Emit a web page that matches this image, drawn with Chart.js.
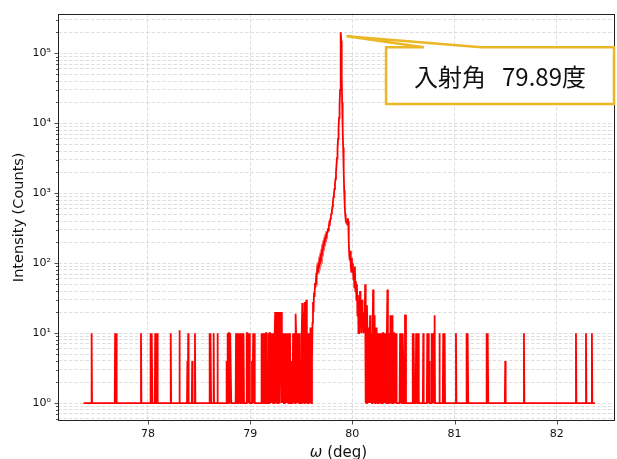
<!DOCTYPE html>
<html>
<head>
<meta charset="utf-8">
<script src="https://cdn.jsdelivr.net/npm/chart.js@4.4.1/dist/chart.umd.min.js"></script>
<style>
  html, body { margin: 0; padding: 0; background: #fff; }
</style>
</head>
<body>
<canvas id="rockingCurve" width="617" height="459"></canvas>
<script>
// Scan data: [omega (deg), counts]
const leftWing = [
  [77.370, 1],
  [77.445, 1], [77.449, 10], [77.453, 1],
  [77.675, 1], [77.679, 10], [77.683, 1], [77.686, 1], [77.690, 10], [77.694, 1],
  [77.928, 1], [77.932, 10], [77.936, 1],
  [78.022, 1], [78.026, 10], [78.030, 1], [78.035, 1], [78.039, 10], [78.043, 1],
  [78.067, 1], [78.071, 10], [78.075, 1], [78.087, 1], [78.091, 10], [78.095, 1],
  [78.219, 1], [78.223, 10], [78.227, 1],
  [78.304, 1], [78.308, 11], [78.312, 1],
  [78.382, 1], [78.386, 4], [78.390, 1], [78.394, 10], [78.398, 1],
  [78.429, 1], [78.433, 4], [78.437, 1],
  [78.456, 1], [78.460, 10], [78.464, 1],
  [78.600, 1], [78.604, 10], [78.608, 1], [78.610, 1], [78.614, 10], [78.618, 1],
  [78.639, 1], [78.643, 10], [78.647, 1],
  [78.676, 1], [78.680, 10], [78.684, 1],
  [78.765, 1], [78.770, 4], [78.775, 1], [78.780, 10], [78.785, 1], [78.790, 10], [78.795, 10], [78.800, 1], [78.805, 10], [78.810, 10], [78.815, 1],
  [78.858, 1], [78.862, 10], [78.867, 1], [78.872, 10], [78.877, 1],
  [78.887, 1], [78.892, 10], [78.897, 1], [78.902, 10], [78.907, 1],
  [78.920, 1], [78.925, 10], [78.930, 1], [78.935, 10], [78.940, 1],
  [78.962, 1], [78.967, 10], [78.972, 10], [78.977, 1], [78.982, 10], [78.987, 1], [78.992, 10], [78.997, 1],
  [79.013, 1], [79.018, 4], [79.023, 1], [79.030, 10], [79.035, 1], [79.040, 10], [79.045, 1]
];

const lowShoulder = [
  [79.108, 1], [79.112, 10], [79.117, 1], [79.122, 1], [79.127, 10], [79.132, 1],
  [79.140, 1], [79.145, 10], [79.150, 1], [79.155, 10], [79.160, 10], [79.165, 1],
  [79.175, 1], [79.180, 10], [79.185, 1], [79.190, 10], [79.195, 10], [79.200, 1],
  [79.205, 10], [79.210, 1], [79.215, 10], [79.220, 10], [79.225, 1], [79.230, 10],
  [79.235, 1], [79.240, 10], [79.245, 20], [79.250, 1], [79.255, 20], [79.260, 10],
  [79.265, 1], [79.270, 20], [79.275, 1], [79.280, 10], [79.285, 20], [79.290, 1],
  [79.295, 20], [79.300, 10], [79.305, 20], [79.310, 1], [79.315, 10], [79.320, 1],
  [79.325, 10], [79.330, 1], [79.335, 1], [79.340, 10], [79.345, 1], [79.350, 1],
  [79.355, 10], [79.360, 1], [79.365, 10], [79.370, 10], [79.375, 1], [79.380, 10],
  [79.385, 1], [79.390, 10], [79.395, 1], [79.400, 4], [79.405, 1], [79.415, 1],
  [79.420, 10], [79.425, 1], [79.430, 10], [79.435, 10], [79.440, 1], [79.445, 19],
  [79.450, 10], [79.455, 1], [79.460, 10], [79.465, 1], [79.470, 10], [79.475, 10],
  [79.480, 1], [79.485, 10], [79.490, 1], [79.495, 4], [79.500, 1], [79.505, 10],
  [79.510, 27], [79.515, 1], [79.520, 10], [79.525, 20], [79.530, 1], [79.535, 28],
  [79.540, 10], [79.545, 1], [79.550, 30], [79.555, 10], [79.560, 1], [79.565, 10],
  [79.570, 1], [79.575, 4], [79.580, 10], [79.585, 1], [79.590, 12], [79.595, 4]
];

const peakProfile = [
  [79.600, 1], [79.605, 4], [79.610, 14], [79.615, 28], [79.620, 20], [79.625, 38],
  [79.630, 33], [79.635, 52], [79.640, 45], [79.645, 62], [79.650, 58], [79.655, 78],
  [79.660, 70], [79.665, 90], [79.670, 85], [79.675, 105], [79.680, 98], [79.685, 120],
  [79.690, 112], [79.695, 135], [79.700, 125], [79.705, 160], [79.710, 150], [79.715, 185],
  [79.720, 175], [79.725, 210], [79.730, 200], [79.735, 235], [79.740, 225], [79.745, 260],
  [79.750, 250], [79.755, 280], [79.760, 300], [79.765, 295], [79.770, 340], [79.775, 380],
  [79.780, 370], [79.785, 430], [79.790, 470], [79.795, 510], [79.800, 560], [79.805, 650],
  [79.810, 760], [79.815, 880], [79.820, 1000], [79.825, 1150], [79.830, 1350], [79.835, 1600],
  [79.840, 2000], [79.845, 2500], [79.850, 3200], [79.855, 4300], [79.860, 6000], [79.865, 8500],
  [79.870, 12000], [79.875, 18000], [79.880, 30000], [79.884, 70000], [79.888, 200000], [79.892, 150000],
  [79.896, 50000], [79.900, 20000], [79.905, 9000], [79.910, 4500], [79.915, 2200], [79.920, 1100],
  [79.925, 700], [79.930, 500], [79.935, 420], [79.940, 380], [79.945, 420], [79.950, 360],
  [79.955, 440], [79.960, 400], [79.965, 200], [79.970, 130], [79.975, 110], [79.980, 150],
  [79.985, 90], [79.990, 75], [79.995, 120], [80.000, 80], [80.005, 100], [80.010, 60],
  [80.015, 70], [80.020, 45], [80.025, 90], [80.030, 40], [80.035, 55], [80.040, 30],
  [80.045, 50], [80.050, 18], [80.055, 35], [80.060, 10], [80.065, 25], [80.070, 10],
  [80.075, 40], [80.080, 15], [80.085, 20], [80.090, 10], [80.095, 30], [80.100, 12],
  [80.105, 20], [80.110, 10], [80.115, 15], [80.120, 10], [80.125, 50], [80.128, 1]
];

const rightWing = [
  [80.133, 10], [80.138, 1], [80.143, 25], [80.148, 10], [80.153, 1], [80.158, 12],
  [80.163, 10], [80.168, 1], [80.173, 18], [80.178, 1], [80.183, 10], [80.188, 10],
  [80.193, 1], [80.198, 10], [80.203, 42], [80.208, 1], [80.213, 10], [80.218, 18],
  [80.223, 1], [80.228, 10], [80.233, 12], [80.238, 1], [80.243, 10], [80.248, 1],
  [80.258, 1], [80.263, 10], [80.268, 1], [80.273, 10], [80.278, 10], [80.283, 1],
  [80.288, 10], [80.293, 1], [80.298, 10], [80.303, 10], [80.308, 1], [80.313, 10],
  [80.318, 1], [80.323, 10], [80.328, 10], [80.333, 1], [80.338, 10], [80.343, 42],
  [80.348, 1], [80.358, 1], [80.363, 10], [80.368, 1], [80.373, 18], [80.378, 10],
  [80.383, 1], [80.388, 10], [80.393, 18], [80.398, 1], [80.403, 10], [80.408, 10],
  [80.413, 1], [80.418, 10], [80.423, 1], [80.428, 10], [80.433, 1],
  [80.462, 1], [80.467, 10], [80.472, 1], [80.477, 10], [80.482, 10], [80.487, 1],
  [80.493, 10], [80.498, 4], [80.503, 1], [80.511, 1], [80.515, 18], [80.520, 18], [80.525, 1],
  [80.587, 1], [80.591, 10], [80.595, 1], [80.598, 1], [80.602, 10], [80.606, 1],
  [80.620, 1], [80.624, 10], [80.628, 1], [80.632, 1], [80.636, 10], [80.640, 1],
  [80.644, 1], [80.648, 10], [80.652, 1],
  [80.690, 1], [80.694, 10], [80.698, 1],
  [80.729, 1], [80.733, 10], [80.737, 1], [80.739, 1], [80.743, 10], [80.747, 1],
  [80.748, 1], [80.752, 4], [80.756, 1],
  [80.772, 1], [80.776, 10], [80.780, 1], [80.786, 1], [80.790, 10], [80.794, 1],
  [80.797, 1], [80.801, 10], [80.805, 18], [80.809, 1],
  [80.848, 1], [80.852, 10], [80.856, 1],
  [80.885, 1], [80.889, 10], [80.893, 1], [80.899, 1], [80.903, 10], [80.907, 1],
  [81.010, 1], [81.014, 10], [81.018, 1],
  [81.114, 1], [81.118, 10], [81.122, 1], [81.126, 1], [81.130, 10], [81.134, 1],
  [81.310, 1], [81.314, 10], [81.318, 1], [81.322, 1], [81.326, 10], [81.330, 1],
  [81.492, 1], [81.496, 4], [81.500, 1],
  [81.675, 1], [81.679, 10], [81.683, 1],
  [82.184, 1], [82.188, 10], [82.192, 1],
  [82.282, 1], [82.286, 10], [82.290, 1],
  [82.340, 1], [82.344, 10], [82.348, 1],
  [82.374, 1]
];

// Axes
const xTicks = [78, 79, 80, 81, 82];
const yMajorTicks = [1, 10, 100, 1000, 10000, 100000];
const yMajorLabels = ['10\u2070', '10\u00b9', '10\u00b2', '10\u00b3', '10\u2074', '10\u2075'];
const yMinorSteps = [2, 3, 4, 5, 6, 7, 8, 9];
const xRange = [77.12, 82.57];
const yRange = [0.555, 370000];

// Callout: tip, box corners, opening on the top edge (data coords)
const calloutTip = [79.944, 175000];
const calloutBox = [80.33, 122000, 82.56, 18800];
const calloutOpening = [80.70, 81.26];
const calloutParts = ['入射角', '79.89度'];

const yTicks = [];
[0.1, ...yMajorTicks].forEach(d => {
  [1, ...yMinorSteps].forEach(m => {
    const v = m * d;
    if (v >= yRange[0] && v <= yRange[1]) yTicks.push(v);
  });
});

const scan = [...leftWing, ...lowShoulder, ...peakProfile, ...rightWing].map(([x, y]) => ({x, y}));

const gridColor = '#d6d6d6';
const tickFont = {family: 'DejaVu Sans', size: 11};

const extras = {
  id: 'extras',
  afterDraw(chart) {
    const {ctx, chartArea: a, scales: {x, y}} = chart;
    ctx.save();

    // tick marks
    ctx.strokeStyle = '#222';
    ctx.lineWidth = 0.8;
    ctx.beginPath();
    y.ticks.forEach(t => {
      const py = Math.round(y.getPixelForValue(t.value)) + 0.5;
      const len = yMajorTicks.includes(t.value) ? 3.5 : 2;
      ctx.moveTo(a.left, py);
      ctx.lineTo(a.left - len, py);
    });
    x.ticks.forEach(t => {
      const px = Math.round(x.getPixelForValue(t.value)) + 0.5;
      ctx.moveTo(px, a.bottom);
      ctx.lineTo(px, a.bottom + 3.5);
    });
    ctx.stroke();

    // frame
    ctx.lineWidth = 1;
    ctx.strokeRect(Math.round(a.left) + 0.5, Math.round(a.top) + 0.5,
      Math.round(a.right - a.left) - 1, Math.round(a.bottom - a.top) - 1);

    // x title
    const cx = (a.left + a.right) / 2 + 2;
    ctx.fillStyle = '#111';
    ctx.textBaseline = 'alphabetic';
    ctx.font = 'italic 15px "DejaVu Sans"';
    const wOmega = ctx.measureText('ω').width;
    ctx.font = '15px "DejaVu Sans"';
    const wRest = ctx.measureText(' (deg)').width;
    const sx = cx - (wOmega + wRest) / 2;
    ctx.textAlign = 'left';
    ctx.font = 'italic 15px "DejaVu Sans"';
    ctx.fillText('ω', sx, 457);
    ctx.font = '15px "DejaVu Sans"';
    ctx.fillText(' (deg)', sx + wOmega, 457);

    // callout
    const tx = x.getPixelForValue(calloutTip[0]);
    const ty = y.getPixelForValue(calloutTip[1]);
    const bx0 = x.getPixelForValue(calloutBox[0]);
    const by0 = y.getPixelForValue(calloutBox[1]);
    const bx1 = x.getPixelForValue(calloutBox[2]);
    const by1 = y.getPixelForValue(calloutBox[3]);
    const o0 = x.getPixelForValue(calloutOpening[0]);
    const o1 = x.getPixelForValue(calloutOpening[1]);
    ctx.beginPath();
    ctx.moveTo(bx0, by0);
    ctx.lineTo(o0, by0);
    ctx.lineTo(tx, ty);
    ctx.lineTo(o1, by0);
    ctx.lineTo(bx1, by0);
    ctx.lineTo(bx1, by1);
    ctx.lineTo(bx0, by1);
    ctx.closePath();
    ctx.fillStyle = '#fff';
    ctx.fill();
    ctx.strokeStyle = '#E9B824';
    ctx.lineWidth = 2.5;
    ctx.lineJoin = 'miter';
    ctx.stroke();

    ctx.font = '24px "Noto Sans CJK JP"';
    ctx.fillStyle = '#111';
    ctx.textBaseline = 'middle';
    const w1 = ctx.measureText(calloutParts[0]).width;
    const w2 = ctx.measureText(calloutParts[1]).width;
    const gap = 16;
    const start = (bx0 + bx1) / 2 - (w1 + gap + w2) / 2;
    const my = (by0 + by1) / 2 + 1;
    ctx.fillText(calloutParts[0], start, my);
    ctx.fillText(calloutParts[1], start + w1 + gap, my);

    ctx.restore();
  }
};

new Chart(document.getElementById('rockingCurve').getContext('2d'), {
  type: 'line',
  data: {
    datasets: [{
      data: scan,
      borderColor: '#ff0000',
      borderWidth: 1.8,
      pointRadius: 0,
      tension: 0,
      fill: false
    }]
  },
  options: {
    responsive: false,
    devicePixelRatio: 1,
    animation: false,
    layout: {padding: {top: 11, right: 2, left: 0, bottom: 0}},
    plugins: {
      legend: {display: false},
      tooltip: {enabled: false}
    },
    scales: {
      x: {
        type: 'linear',
        min: xRange[0],
        max: xRange[1],
        afterBuildTicks: s => { s.ticks = xTicks.map(v => ({value: v})); },
        afterFit: s => { s.height = 38; },
        ticks: {
          color: '#111',
          font: tickFont,
          padding: 7,
          maxRotation: 0,
          autoSkip: false,
          callback: v => String(v)
        },
        grid: {color: gridColor, lineWidth: 0.8, drawTicks: false},
        border: {display: false, dash: [3.5, 2]}
      },
      y: {
        type: 'logarithmic',
        min: yRange[0],
        max: yRange[1],
        afterBuildTicks: s => { s.ticks = yTicks.map(v => ({value: v})); },
        afterFit: s => { s.width = 58; },
        ticks: {
          color: '#111',
          font: tickFont,
          padding: 7,
          autoSkip: false,
          callback: v => {
            const i = yMajorTicks.indexOf(v);
            return i >= 0 ? yMajorLabels[i] : '';
          }
        },
        grid: {color: gridColor, lineWidth: 0.8, drawTicks: false},
        border: {display: false, dash: [3.5, 2]},
        title: {
          display: true,
          text: 'Intensity (Counts)',
          color: '#111',
          font: {family: 'DejaVu Sans', size: 14.5},
          padding: {top: 11, bottom: 0}
        }
      }
    }
  },
  plugins: [extras]
});
</script>
</body>
</html>
